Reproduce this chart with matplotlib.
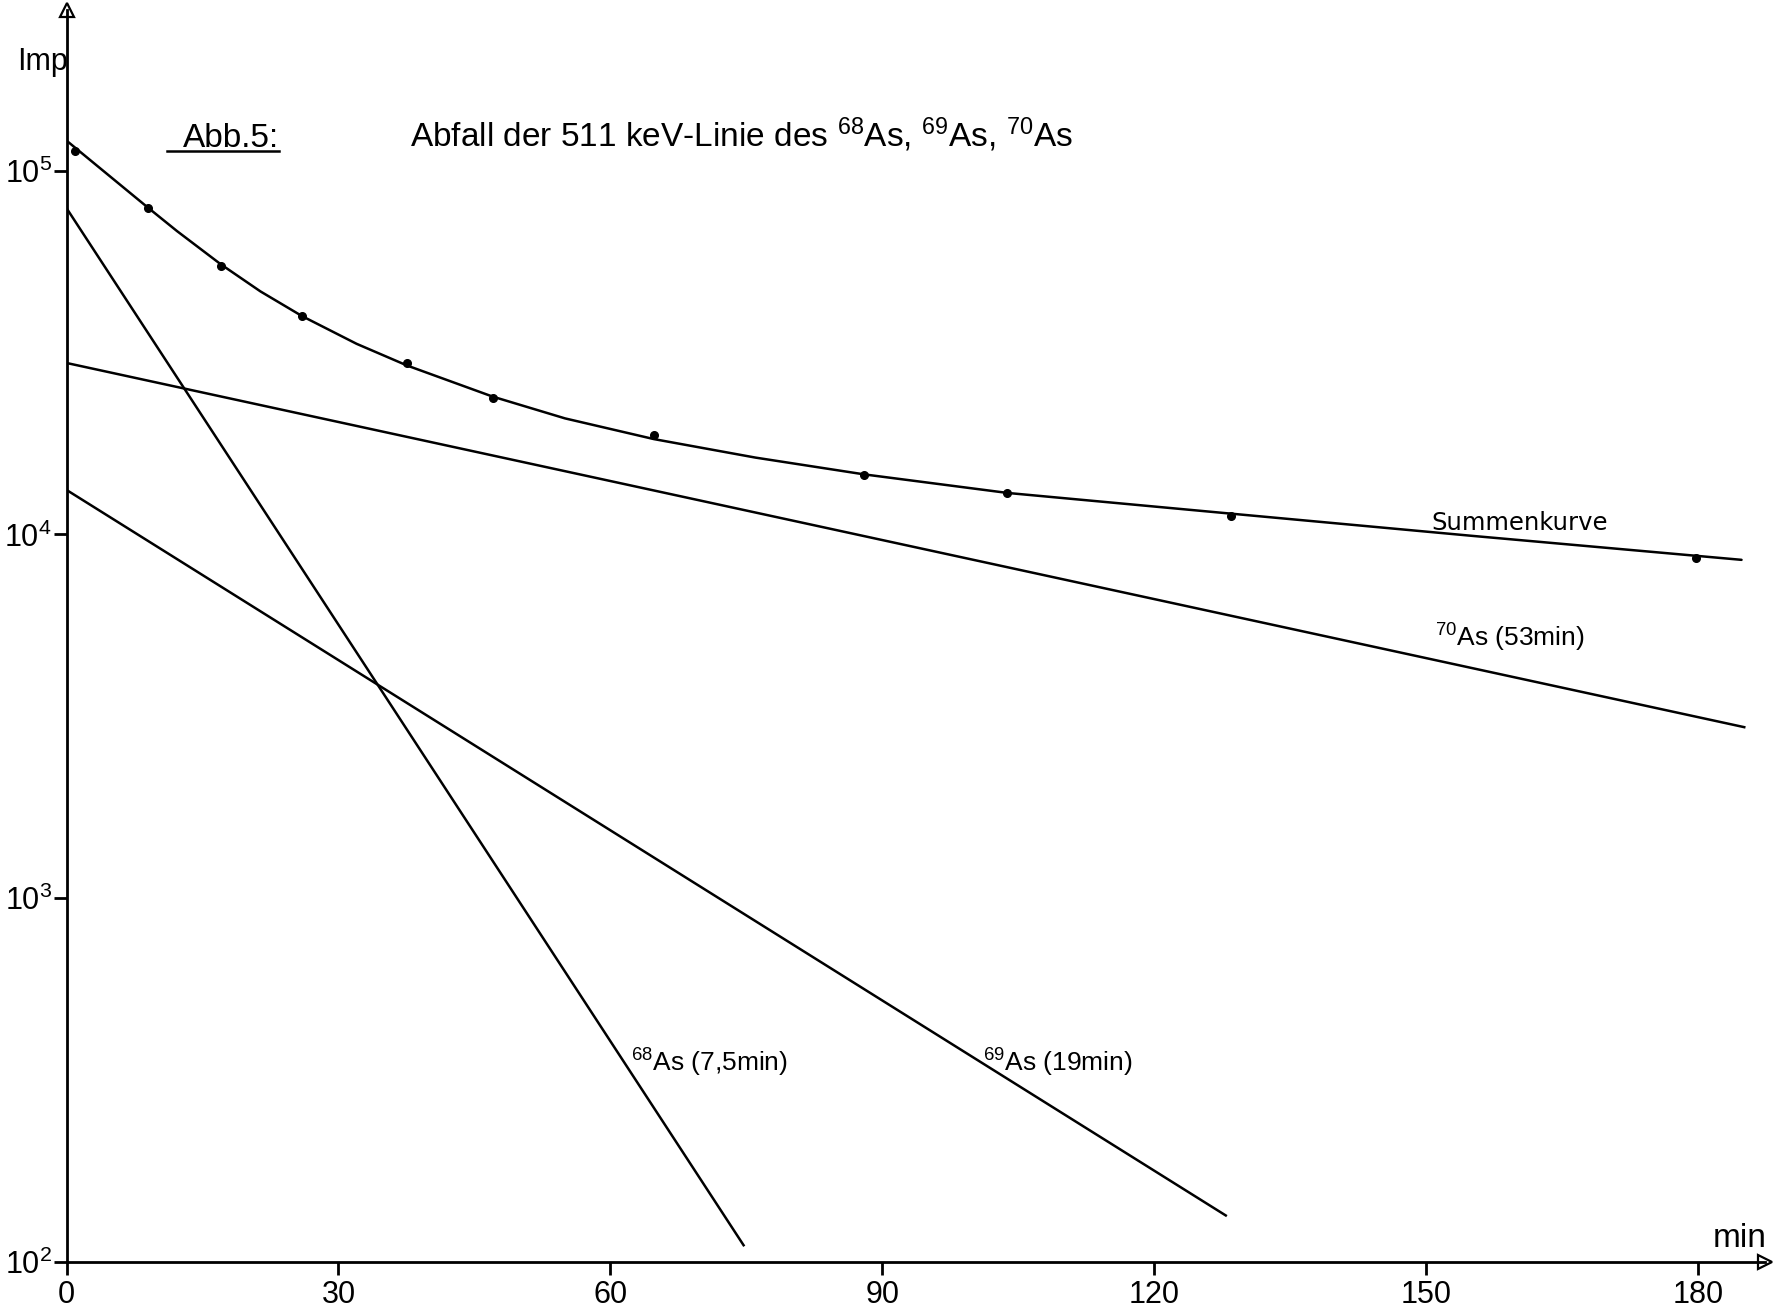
import matplotlib
matplotlib.use("Agg")
import matplotlib.pyplot as plt
from matplotlib import ticker
from matplotlib.lines import Line2D

plt.rcParams['font.family'] = ['Liberation Sans', 'DejaVu Sans']
plt.rcParams['mathtext.default'] = 'regular'

# ---- data ----
t_meas = [0.9, 9.0, 17.0, 26.0, 37.6, 47.0, 64.8, 88.0, 103.8, 128.5, 179.8]
imp_meas = [113500, 79100, 54800, 39900, 29600, 23700, 18700, 14600, 13000, 11200, 8600]

sum_t = [0, 9.0, 12.2, 17.0, 21.4, 26.0, 32.0, 37.6, 47.0, 55.0, 64.8, 76.0, 88.0,
         103.8, 128.5, 155.0, 184.8]
sum_v = [121000, 79100, 68200, 55340, 46560, 39810, 33420, 29110, 23930, 20840, 18280,
         16260, 14620, 13000, 11400, 9910, 8510]

as68_t = [0, 74.7]
as68_v = [78900, 111]
as69_t = [0, 127.9]
as69_v = [13250, 134]
as70_t = [0, 185.1]
as70_v = [29600, 2950]

x_ticks = [0, 30, 60, 90, 120, 150, 180]
x_ticklabels = ['0', '30', '60', '90', '120', '150', '180']
y_ticks = [1e2, 1e3, 1e4, 1e5]
y_ticklabels = [r'$\mathregular{10^{2}}$', r'$\mathregular{10^{3}}$',
                r'$\mathregular{10^{4}}$', r'$\mathregular{10^{5}}$']

# ---- figure ----
W, H = 1785, 1313
fig = plt.figure(figsize=(W / 100, H / 100), dpi=100)

def fx(px):
    return px / W

def fy(py):
    return 1 - py / H

x0_px, x_end_px = 66.5, 1765
y0_px, y_top_px = 1261.7, 10
ax = fig.add_axes([fx(x0_px), fy(y0_px), fx(x_end_px) - fx(x0_px), fy(y_top_px) - fy(y0_px)])
ax.set_yscale('log')
ax.set_xlim(0, (x_end_px - x0_px) / 9.064)
ax.set_ylim(100, 10 ** (5 + (170.7 - y_top_px) / 363.7))

lw = 1.8
ax.plot(sum_t, sum_v, color='black', lw=lw, solid_capstyle='round', solid_joinstyle='round')
ax.plot(as68_t, as68_v, color='black', lw=lw)
ax.plot(as69_t, as69_v, color='black', lw=lw)
ax.plot(as70_t, as70_v, color='black', lw=lw)
ax.plot(t_meas, imp_meas, 'o', color='black', ms=5.5)

for s in ['top', 'right']:
    ax.spines[s].set_visible(False)
for s in ['left', 'bottom']:
    ax.spines[s].set_linewidth(2.0)

ax.xaxis.set_major_locator(ticker.FixedLocator(x_ticks))
ax.xaxis.set_major_formatter(ticker.FixedFormatter(x_ticklabels))
ax.yaxis.set_major_locator(ticker.FixedLocator(y_ticks))
ax.yaxis.set_major_formatter(ticker.FixedFormatter(y_ticklabels))
ax.yaxis.set_minor_locator(ticker.NullLocator())
ax.xaxis.set_minor_locator(ticker.NullLocator())
ax.tick_params(axis='both', which='major', length=9.5, width=2.0, direction='out',
               labelsize=22, colors='black')
ax.tick_params(axis='x', pad=4)
ax.tick_params(axis='y', pad=1)

# axis arrows
ax.plot([0], [1], marker='^', ms=10, mfc='white', mec='black', mew=1.6,
        transform=ax.transAxes, clip_on=False)
ax.plot([1], [0], marker='>', ms=10, mfc='white', mec='black', mew=1.6,
        transform=ax.transAxes, clip_on=False)

# texts
fig.text(fx(17), fy(70), 'Imp', fontsize=22, va='baseline', ha='left')
fig.text(fx(1713), fy(1247), 'min', fontsize=24, va='baseline', ha='left')
fig.text(fx(183), fy(147), 'Abb.5:', fontsize=24, va='baseline', ha='left')
fig.add_artist(Line2D([fx(167), fx(279)], [fy(151), fy(151)], color='black', lw=1.8))
fig.text(fx(410), fy(147),
         r'Abfall der 511 keV-Linie des $^{68}$As, $^{69}$As, $^{70}$As',
         fontsize=24, va='baseline', ha='left')
fig.text(fx(1431), fy(530), 'Summenkurve', fontsize=17.5, va='baseline', ha='left',
         family='DejaVu Sans')
fig.text(fx(1435), fy(647), r'$^{70}$As (53min)', fontsize=19, va='baseline', ha='left')
fig.text(fx(631), fy(1072), r'$^{68}$As (7,5min)', fontsize=19, va='baseline', ha='left')
fig.text(fx(983), fy(1072), r'$^{69}$As (19min)', fontsize=19, va='baseline', ha='left')

fig.savefig('out.png', dpi=100)
